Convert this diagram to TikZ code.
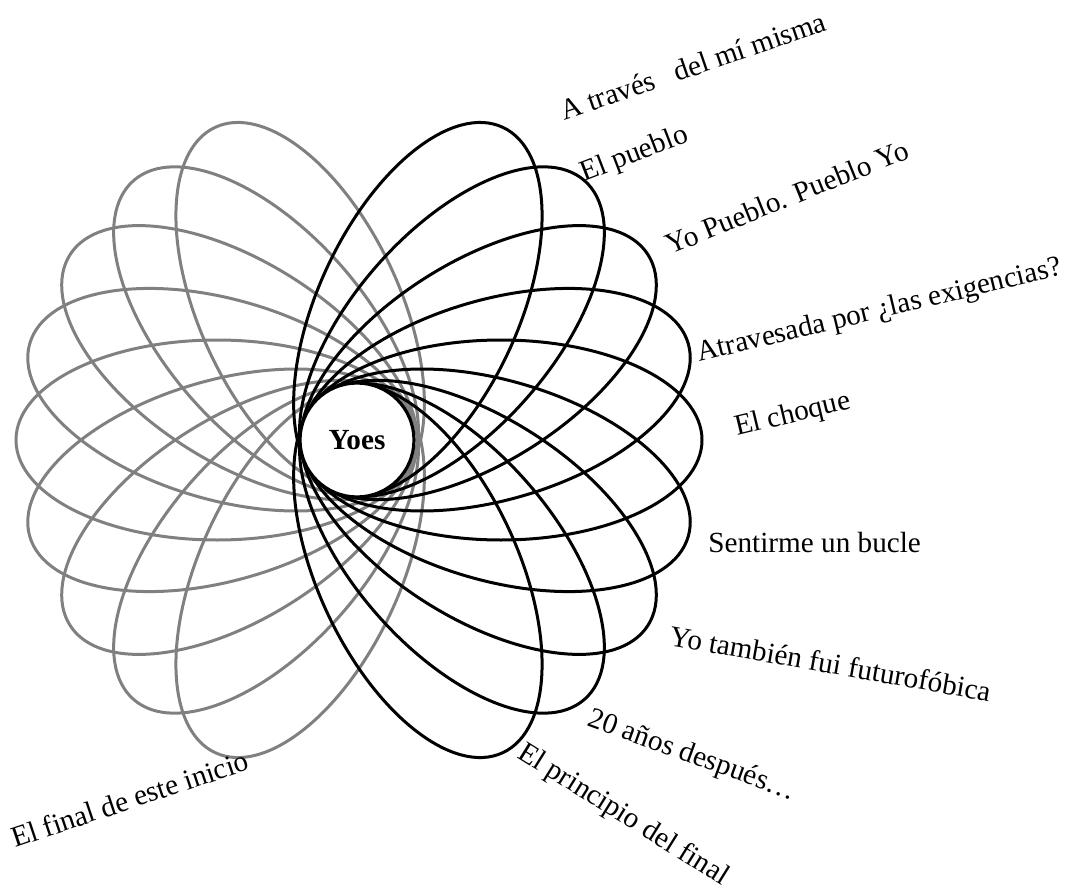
\documentclass[tikz,border=0pt]{standalone}
\usepackage{fontspec}
\setmainfont{Liberation Serif}
\definecolor{petalgrey}{RGB}{128,128,128}
\tikzset{
  yoes flower/.style={
    x=0.5pt,
    y=-0.5pt,
    every node/.style={font=\fontsize{14.6}{17}\selectfont},
  },
  petal/.style={line width=1.5pt},
  black petal/.style={petal, draw=black},
  grey petal/.style={petal, draw=petalgrey},
  petal label/.style={anchor=base west, inner sep=0pt},
  core/.style={
    circle, draw=black, line width=1.6pt, fill=white,
    minimum size=57pt, inner sep=0pt,
    font=\fontsize{14.6}{17}\selectfont\bfseries,
  },
}

\begin{document}
\begin{tikzpicture}[
  yoes flower,
]
\useasboundingbox (0,0) rectangle (1081,893);

\coordinate (black core) at (357,440);
\coordinate (grey core) at (361,440);

% left petals first, right petals on top
\foreach \i in {-4,...,4}
  \draw [grey petal, shift={(361,440)}, rotate=16.25*\i]
    (-144,0) ellipse [x radius=100.5pt, y radius=50pt];
\foreach \i in {-4,...,4}
  \draw [black petal, shift={(357,440)}, rotate=16.25*\i]
    (144,0) ellipse [x radius=100.5pt, y radius=50pt];

\node [core] (yoes) at (black core) {Yoes};

\node [petal label, rotate=19] (atraves) at (564,121) {A través~~~del mí misma};
\node [petal label, rotate=21] (pueblo) at (584,182) {El pueblo};
\node [petal label, rotate=22] (yopueblo) at (670,255) {Yo Pueblo. Pueblo Yo};
\node [petal label, rotate=13.5] (exigencias) at (699,362) {Atravesada por ¿las exigencias?};
\node [petal label, rotate=13.5] (choque) at (737,436) {El choque};
\node [petal label] (bucle) at (708,552) {Sentirme un bucle};
\node [petal label, rotate=-10] (futuro) at (668,645) {Yo también fui futurofóbica};
\node [petal label, rotate=-20] (veinte) at (586,725) {20 años después…};
\node [petal label, rotate=-32] (principio) at (516,757) {El principio del final};
\node [petal label, rotate=18.5] (inicio) at (15,848) {El final de este inicio};
\end{tikzpicture}
\end{document}
